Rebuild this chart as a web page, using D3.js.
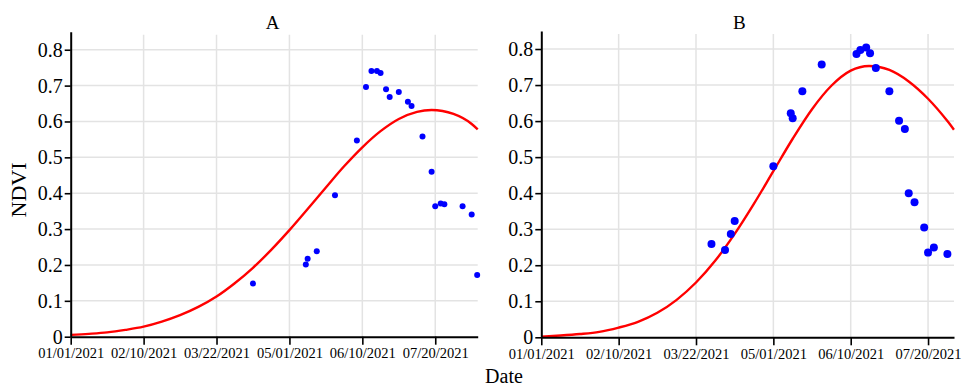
<!DOCTYPE html>
<html>
<head>
<meta charset="utf-8">
<script src="https://cdn.jsdelivr.net/npm/d3@7"></script>
<style>
  body { margin: 0; background: #fff; }
  svg { display: block; }
  text { font-family: "Liberation Serif", "Times New Roman", serif; fill: #000; }
</style>
</head>
<body>
<svg id="chart" width="966" height="387"></svg>
<script>
// ---- Data -------------------------------------------------------------
const dateTickLabels = ["01/01/2021", "02/10/2021", "03/22/2021", "05/01/2021", "06/10/2021", "07/20/2021"];
const ndviTicks = [0, 0.1, 0.2, 0.3, 0.4, 0.5, 0.6, 0.7, 0.8];

// Field A: observed NDVI
const datesA = ["04/11/2021", "05/10/2021", "05/11/2021", "05/16/2021", "05/26/2021", "06/07/2021",
                "06/12/2021", "06/15/2021", "06/18/2021", "06/20/2021", "06/23/2021", "06/25/2021",
                "06/30/2021", "07/05/2021", "07/07/2021", "07/13/2021", "07/18/2021", "07/20/2021",
                "07/23/2021", "07/25/2021", "08/04/2021", "08/09/2021", "08/12/2021"];
const ndviA = [0.148, 0.201, 0.217, 0.238, 0.394, 0.547,
               0.696, 0.741, 0.741, 0.735, 0.690, 0.668,
               0.682, 0.655, 0.643, 0.558, 0.460, 0.364,
               0.371, 0.369, 0.364, 0.341, 0.172];
// Field A: fitted curve (days after 01/01/2021)
const fitDaysA = [0, 10, 20, 30, 40, 50, 60, 70, 80, 90, 100, 110, 120, 130, 140, 150,
                  160, 170, 180, 190, 198, 210, 220, 223.3];
const fitA = [0.005, 0.008, 0.012, 0.019, 0.028, 0.042, 0.060, 0.083, 0.112, 0.149, 0.192, 0.242,
              0.297, 0.356, 0.416, 0.475, 0.528, 0.573, 0.607, 0.627, 0.632, 0.621, 0.593, 0.578];
const endA = "08/12/2021 07:00";

// Field B: observed NDVI
const datesB = ["03/30/2021", "04/06/2021", "04/09/2021", "04/11/2021", "05/01/2021", "05/10/2021",
                "05/11/2021", "05/16/2021", "05/26/2021", "06/13/2021", "06/15/2021", "06/18/2021",
                "06/20/2021", "06/23/2021", "06/30/2021", "07/05/2021", "07/08/2021", "07/10/2021",
                "07/13/2021", "07/18/2021", "07/20/2021", "07/23/2021", "07/30/2021"];
const ndviB = [0.259, 0.242, 0.287, 0.323, 0.475, 0.622,
               0.608, 0.683, 0.757, 0.786, 0.797, 0.804,
               0.788, 0.747, 0.683, 0.601, 0.578, 0.400,
               0.375, 0.305, 0.235, 0.249, 0.231];
// Field B: fitted curve (days after 01/01/2021)
const fitDaysB = [0, 10, 20, 30, 40, 50, 60, 70, 80, 90, 100, 110, 120, 130, 140, 150,
                  160, 169.5, 180, 190, 200, 210, 213.4];
const fitB = [0.002, 0.005, 0.009, 0.015, 0.027, 0.043, 0.068, 0.104, 0.152, 0.213, 0.287, 0.371,
              0.461, 0.551, 0.633, 0.698, 0.740, 0.753, 0.742, 0.710, 0.662, 0.600, 0.576];
const endB = "08/02/2021 10:00";

// ---- Drawing ----------------------------------------------------------
const parseDate = d3.timeParse("%m/%d/%Y");
const parseStamp = d3.timeParse("%m/%d/%Y %H:%M");
const fmtDate = d3.timeFormat("%m/%d/%Y");
const start = parseDate("01/01/2021");
const tickDates = dateTickLabels.map(parseDate);

const svg = d3.select("#chart");

function dayToDate(d) {
  return new Date(start.getTime() + d * 864e5);
}

function drawPanel(cfg) {
  const x = d3.scaleTime()
    .domain([start, parseStamp(cfg.end)])
    .range([cfg.left, cfg.right]);
  const y = d3.scaleLinear()
    .domain([0, 0.85])
    .range([cfg.bottom, cfg.top]);

  const g = svg.append("g");

  // grid
  const grid = g.append("g").attr("stroke", "#e3e3e3").attr("stroke-width", 1.5);
  grid.selectAll("line.v").data(tickDates.slice(1)).join("line")
    .attr("x1", d => x(d)).attr("x2", d => x(d))
    .attr("y1", y(0.842)).attr("y2", y(0));
  grid.selectAll("line.h").data(ndviTicks.slice(1)).join("line")
    .attr("x1", cfg.left).attr("x2", cfg.right)
    .attr("y1", d => y(d)).attr("y2", d => y(d));

  // fitted curve
  const line = d3.line()
    .x(d => x(dayToDate(d[0])))
    .y(d => y(d[1]))
    .curve(d3.curveMonotoneX);
  g.append("path")
    .datum(cfg.fitDays.map((d, i) => [d, cfg.fit[i]]))
    .attr("fill", "none")
    .attr("stroke", "#ff0000")
    .attr("stroke-width", 2.4)
    .attr("d", line);

  // observations
  g.append("g").attr("fill", "#0000ff")
    .selectAll("circle")
    .data(cfg.dates.map((d, i) => ({ date: parseDate(d), v: cfg.values[i] })))
    .join("circle")
    .attr("cx", d => x(d.date))
    .attr("cy", d => y(d.v))
    .attr("r", cfg.r);

  // axes
  const xAxis = g.append("g")
    .attr("transform", `translate(0,${cfg.bottom})`)
    .call(d3.axisBottom(x).tickValues(tickDates).tickFormat(fmtDate)
      .tickSize(8).tickSizeOuter(0).tickPadding(3.5));
  xAxis.selectAll("text").attr("font-size", 14.5).attr("font-family", "Liberation Serif");

  const yAxis = g.append("g")
    .attr("transform", `translate(${cfg.left},0)`)
    .call(d3.axisLeft(y).tickValues(ndviTicks)
      .tickFormat(d => d === 0 ? "0" : d3.format(".1f")(d))
      .tickSize(6).tickSizeOuter(0).tickPadding(2));
  yAxis.selectAll("text").attr("font-size", 20).attr("font-family", "Liberation Serif");

  [xAxis, yAxis].forEach(a => {
    a.select(".domain").attr("stroke", "#000").attr("stroke-width", 2);
    a.selectAll(".tick line").attr("stroke", "#000").attr("stroke-width", 1.6);
  });

  // panel title
  g.append("text")
    .attr("x", cfg.titleX).attr("y", 29)
    .attr("text-anchor", "middle")
    .attr("font-size", 19)
    .text(cfg.title);
}

drawPanel({
  title: "A", titleX: 272.5, left: 70.7, right: 477.7, top: 31.8, bottom: 336.7,
  end: endA, dates: datesA, values: ndviA, fitDays: fitDaysA, fit: fitA, r: 3
});
drawPanel({
  title: "B", titleX: 739.3, left: 541.3, right: 954, top: 31, bottom: 337.3,
  end: endB, dates: datesB, values: ndviB, fitDays: fitDaysB, fit: fitB, r: 4
});

// shared axis titles
svg.append("text")
  .attr("transform", "translate(26,190) rotate(-90)")
  .attr("text-anchor", "middle")
  .attr("font-size", 22)
  .text("NDVI");

svg.append("text")
  .attr("x", 504).attr("y", 383)
  .attr("text-anchor", "middle")
  .attr("font-size", 20)
  .text("Date");
</script>
</body>
</html>
